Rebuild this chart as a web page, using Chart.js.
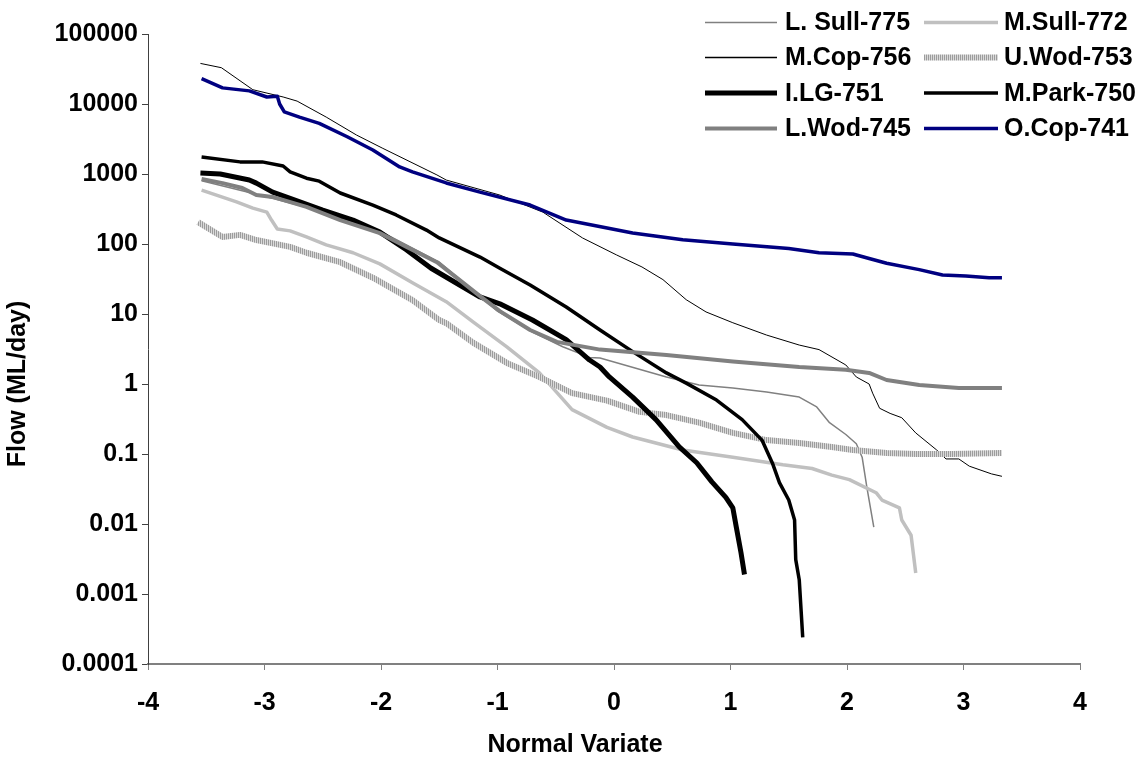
<!DOCTYPE html>
<html>
<head>
<meta charset="utf-8">
<script src="https://cdn.jsdelivr.net/npm/chart.js@4.4.1/dist/chart.umd.min.js"></script>
<style>
html,body{margin:0;padding:0;background:#fff;}
#wrap{width:1148px;height:760px;}
</style>
</head>
<body>
<div id="wrap"><canvas id="c" width="1148" height="760"></canvas></div>
<script>
// ---- data ----
const seriesNames = ['L. Sull-775','M.Sull-772','M.Cop-756','U.Wod-753','I.LG-751','M.Park-750','L.Wod-745','O.Cop-741'];
const yTickValues = [0.0001,0.001,0.01,0.1,1,10,100,1000,10000,100000];
const xTickValues = [-4,-3,-2,-1,0,1,2,3,4];
const xTitle = 'Normal Variate';
const yTitle = 'Flow (ML/day)';

const xLSull = [-3.54,-3.0,-2.5,-2.0,-1.5,-1.0,-0.70,-0.44,-0.21,-0.12,0.45,0.73,1.02,1.31,1.59,1.74,1.85,1.99,2.08,2.13,2.17,2.23];
const yLSull = [800,480,290,150,55,11,5.5,3.4,2.4,2.35,1.26,0.97,0.88,0.77,0.65,0.47,0.28,0.19,0.14,0.09,0.034,0.009];

const xMSull = [-3.54,-3.24,-3.10,-2.98,-2.94,-2.89,-2.78,-2.64,-2.47,-2.24,-2.01,-1.73,-1.44,-1.21,-0.92,-0.64,-0.36,-0.06,0.16,0.59,1.02,1.45,1.70,1.87,2.02,2.25,2.30,2.45,2.47,2.55,2.59];
const yMSull = [590,400,325,285,220,164,154,126,97,75,52,28,15,7.7,3.4,1.44,0.43,0.24,0.175,0.114,0.09,0.07,0.062,0.05,0.043,0.028,0.022,0.017,0.0114,0.0069,0.002];

const xMCop = [-3.55,-3.37,-3.10,-2.84,-2.72,-2.47,-2.21,-1.99,-1.52,-1.44,-0.98,-0.61,-0.27,0.02,0.24,0.42,0.62,0.79,1.02,1.31,1.59,1.76,1.99,2.08,2.19,2.22,2.28,2.37,2.47,2.59,2.77,2.85,2.96,3.05,3.24,3.33];
const yMCop = [38000,33000,16000,12600,11000,6500,3600,2350,970,820,500,285,122,70,47,31,16,10.7,7.5,5,3.6,3.1,1.87,1.26,1.0,0.74,0.45,0.38,0.33,0.2,0.114,0.085,0.085,0.067,0.052,0.048];

const xUWod = [-3.57,-3.36,-3.21,-3.07,-2.78,-2.64,-2.35,-2.07,-1.73,-1.50,-1.44,-1.21,-0.92,-0.64,-0.36,-0.06,0.22,0.45,0.73,1.02,1.31,1.59,1.87,2.05,2.34,2.59,2.90,3.33];
const yUWod = [205,126,135,114,91,75,55,33,15.8,8.2,7.4,3.9,2.0,1.26,0.74,0.58,0.4,0.36,0.28,0.2,0.158,0.144,0.126,0.114,0.103,0.1,0.1,0.103];

const xILG = [-3.55,-3.38,-3.13,-3.07,-2.93,-2.78,-2.50,-2.24,-2.01,-1.78,-1.57,-1.15,-0.98,-0.70,-0.41,-0.21,-0.12,-0.04,0.16,0.36,0.56,0.71,0.84,0.96,1.02,1.05,1.09,1.12];
const yILG = [1030,1000,820,740,550,450,305,220,148,82,45,17.5,14,8.2,4.3,2.2,1.75,1.26,0.65,0.31,0.126,0.075,0.04,0.024,0.017,0.009,0.0039,0.0019];

const xMPark = [-3.54,-3.21,-3.02,-2.84,-2.78,-2.64,-2.53,-2.35,-2.07,-1.87,-1.61,-1.50,-1.15,-0.98,-0.72,-0.41,-0.12,0.16,0.45,0.62,0.88,1.10,1.27,1.36,1.42,1.50,1.55,1.56,1.59,1.62];
const yMPark = [1750,1490,1490,1300,1070,870,790,535,360,260,158,122,65,45,26,12.6,5.9,2.9,1.44,1.03,0.59,0.31,0.158,0.074,0.039,0.022,0.0114,0.0031,0.0016,0.00024];

const xLWod = [-3.54,-3.36,-3.19,-3.07,-2.93,-2.64,-2.35,-2.01,-1.78,-1.52,-1.15,-0.98,-0.72,-0.49,-0.12,0.45,1.02,1.59,1.99,2.19,2.34,2.62,2.96,3.33];
const yLWod = [850,740,630,500,470,340,220,143,91,55,18,11,5.9,4.0,3.1,2.6,2.1,1.75,1.6,1.44,1.14,0.97,0.88,0.88];

const xOCop = [-3.54,-3.36,-3.13,-2.98,-2.89,-2.87,-2.83,-2.70,-2.53,-2.29,-2.07,-1.84,-1.73,-1.44,-1.15,-0.72,-0.41,0.16,0.59,1.02,1.50,1.76,2.05,2.19,2.34,2.62,2.82,3.02,3.22,3.33];
const yOCop = [23000,17000,15400,12600,12900,10000,7700,6500,5300,3400,2200,1260,1070,745,550,360,220,144,115,100,86,75,72,62,53,43,36,35,33,33];

// ---- styles ----
function stripePattern(){
  const pc = document.createElement('canvas');
  pc.width = 2; pc.height = 1;
  const g = pc.getContext('2d');
  g.fillStyle = '#9c9c9c'; g.fillRect(0,0,1,1);
  g.fillStyle = '#dadada'; g.fillRect(1,0,1,1);
  return document.getElementById('c').getContext('2d').createPattern(pc,'repeat');
}
const seriesX = [xLSull,xMSull,xMCop,xUWod,xILG,xMPark,xLWod,xOCop];
const seriesY = [yLSull,yMSull,yMCop,yUWod,yILG,yMPark,yLWod,yOCop];
const seriesColor = ['#808080','#c0c0c0','#000000',stripePattern(),'#000000','#000000','#808080','#000080'];
const seriesWidth = [1.5,3.5,1,6,5,3.5,4,3.5];

const FONT_FAMILY = '"Liberation Sans", Arial, sans-serif';
const FONT = {family: FONT_FAMILY, size:25, weight:'bold'};
const CSS_FONT = 'bold 25px ' + FONT_FAMILY;

const datasets = seriesNames.map((name,i)=>({
  label: name,
  data: seriesX[i].map((x,j)=>({x:x, y:seriesY[i][j]})),
  borderColor: seriesColor[i],
  backgroundColor: seriesColor[i],
  borderWidth: seriesWidth[i],
  pointRadius: 0,
  tension: 0,
  fill: false,
  order: seriesNames.length - i,
  borderJoinStyle: 'round',
  borderCapStyle: 'butt'
}));

const legendPlugin = {
  id: 'customLegend',
  afterDraw(chart){
    const ctx = chart.ctx;
    const cols = [{l0:705,l1:777,tx:785},{l0:924,l1:998,tx:1004}];
    const rows = [22.5,57.5,93,128.5];
    ctx.save();
    ctx.font = CSS_FONT;
    ctx.textBaseline = 'middle';
    ctx.textAlign = 'left';
    chart.data.datasets.forEach((ds,i)=>{
      const c = cols[i%2], y = rows[Math.floor(i/2)];
      ctx.beginPath();
      ctx.strokeStyle = ds.borderColor;
      ctx.lineWidth = Math.max(ds.borderWidth, 1.5);
      ctx.moveTo(c.l0,y); ctx.lineTo(c.l1,y);
      ctx.stroke();
      ctx.fillStyle = '#000';
      ctx.fillText(ds.label, c.tx, y+1);
    });
    // axis titles
    ctx.textAlign = 'center';
    ctx.fillText(xTitle, 575, 745);
    ctx.translate(18, 384);
    ctx.rotate(-Math.PI/2);
    ctx.fillText(yTitle, 0, 0);
    ctx.restore();
  }
};

new Chart(document.getElementById('c'), {
  type: 'line',
  data: {datasets: datasets},
  plugins: [legendPlugin],
  options: {
    responsive: false,
    animation: false,
    devicePixelRatio: 1,
    layout: {padding: {top:34, right:68, bottom:0, left:0}},
    plugins: {legend:{display:false}, tooltip:{enabled:false}},
    scales: {
      x: {
        type: 'linear',
        min: -4, max: 4,
        afterBuildTicks: (s)=>{ s.ticks = xTickValues.map(v=>({value:v})); },
        afterFit: (s)=>{ s.height = 96; },
        ticks: {font: FONT, color:'#000', padding: 18, maxRotation:0, callback:(v)=>String(v)},
        grid: {drawOnChartArea:false, drawTicks:true, tickLength:6, color:'#808080', lineWidth:1},
        border: {display:true, color:'#808080', width:2},
        title: {display:false}
      },
      y: {
        type: 'logarithmic',
        min: 0.0001, max: 100000,
        afterBuildTicks: (s)=>{ s.ticks = yTickValues.map(v=>({value:v})); },
        afterFit: (s)=>{ s.width = 148; },
        ticks: {font: FONT, color:'#000', padding: 4, callback:(v)=>String(v)},
        grid: {drawOnChartArea:false, drawTicks:true, tickLength:6, color:'#404040', lineWidth:1},
        border: {display:true, color:'#404040', width:1},
        title: {display:false}
      }
    }
  }
});
</script>
</body>
</html>
